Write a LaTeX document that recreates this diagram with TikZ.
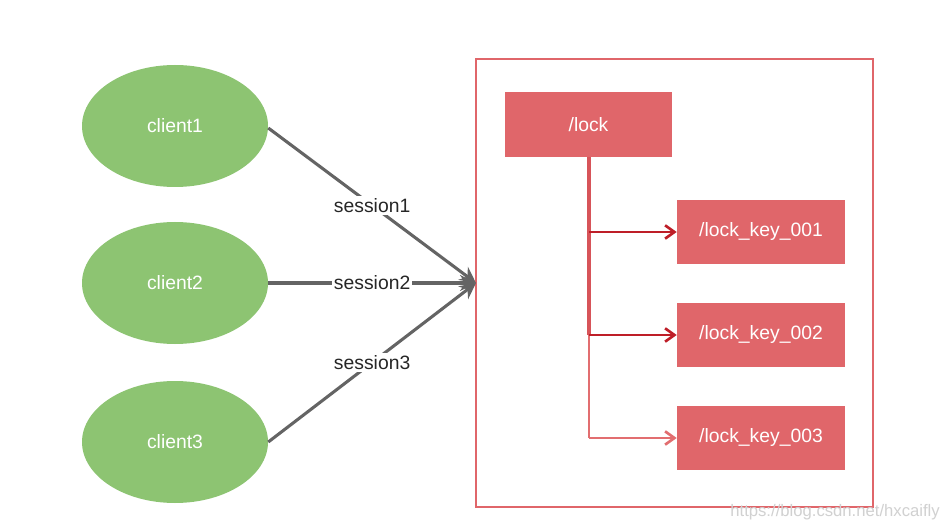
\documentclass[tikz,border=0pt]{standalone}
\usepackage{fontspec}
\setmainfont{Liberation Sans}
\usetikzlibrary{arrows.meta,shapes.geometric}
\definecolor{cgreen}{RGB}{141,196,114}
\definecolor{cred}{RGB}{224,102,106}
\definecolor{cdark}{RGB}{190,30,40}
\definecolor{clight}{RGB}{226,110,112}
\definecolor{cgray}{RGB}{100,100,100}
\newdimen\pxu
\pxu=0.75pt
\tikzset{
  client/.style={ellipse,fill=cgreen,draw=none,minimum width=186\pxu,minimum height=122\pxu,text=white,font=\fontsize{14.5}{17}\selectfont},
  keybox/.style={rectangle,fill=cred,draw=none,text=white,font=\fontsize{14.5}{17}\selectfont},
  sess/.style={draw=cgray,line width=2.3pt,-{Stealth[length=12pt,width=12pt,inset=4pt]}},
  slabel/.style={fill=white,inner sep=1.5pt,font=\fontsize{14.5}{17}\selectfont,text=black!85},
  keyarrow/.style={line width=2pt,-{Straight Barb[length=7pt,width=10pt]}}
}
\begin{document}
\begin{tikzpicture}[x=0.75pt,y=-0.75pt]
\useasboundingbox (0,0) rectangle (947,531);
\fill[white] (0,0) rectangle (947,531);
% clients
\node[client] (c1) at (175,126) {client1};
\node[client] (c2) at (175,283) {client2};
\node[client] (c3) at (175,442) {client3};
% outer box
\node[draw=cred,line width=2.2pt,minimum width=397\pxu,minimum height=448\pxu,inner sep=0pt] (outer) at (674.5,283) {};
\coordinate (tip) at (476,283);
% lock boxes
\node[keybox,minimum width=167\pxu,minimum height=65\pxu] (lock) at (588.5,124.5) {/lock};
\node[keybox,minimum width=168\pxu,minimum height=64\pxu] (k1) at (761,232) {/lock\_key\_001};
\node[keybox,minimum width=168\pxu,minimum height=64\pxu] (k2) at (761,335) {/lock\_key\_002};
\node[keybox,minimum width=168\pxu,minimum height=64\pxu] (k3) at (761,438) {/lock\_key\_003};
% sessions
\draw[sess] (c1.east) ++(0,2) -- (tip) node[pos=0.5,slabel] {session1};
\draw[sess] (c2.east) -- (tip) node[pos=0.5,slabel] {session2};
\draw[sess] (c3.east) -- (tip) node[pos=0.5,slabel] {session3};
% tree
\coordinate (j1) at (589,232);
\coordinate (j2) at (589,335);
\coordinate (j3) at (589,438);
\draw[draw=cred!75!cdark,line width=2.4pt] (lock.south -| j1) -- (j2);
\draw[draw=clight,line width=2pt] (j2) -- (j3);
\draw[keyarrow,draw=cdark] (j1) -- (k1.west);
\draw[keyarrow,draw=cdark] (j2) -- (k2.west);
\draw[keyarrow,draw=clight] (j3) -- (k3.west);
% watermark
\node[anchor=east,text=black!18,font=\fontsize{12.5}{14}\selectfont,inner sep=0pt] (wm) at (940,512) {https://blog.csdn.net/hxcaifly};
\end{tikzpicture}
\end{document}
